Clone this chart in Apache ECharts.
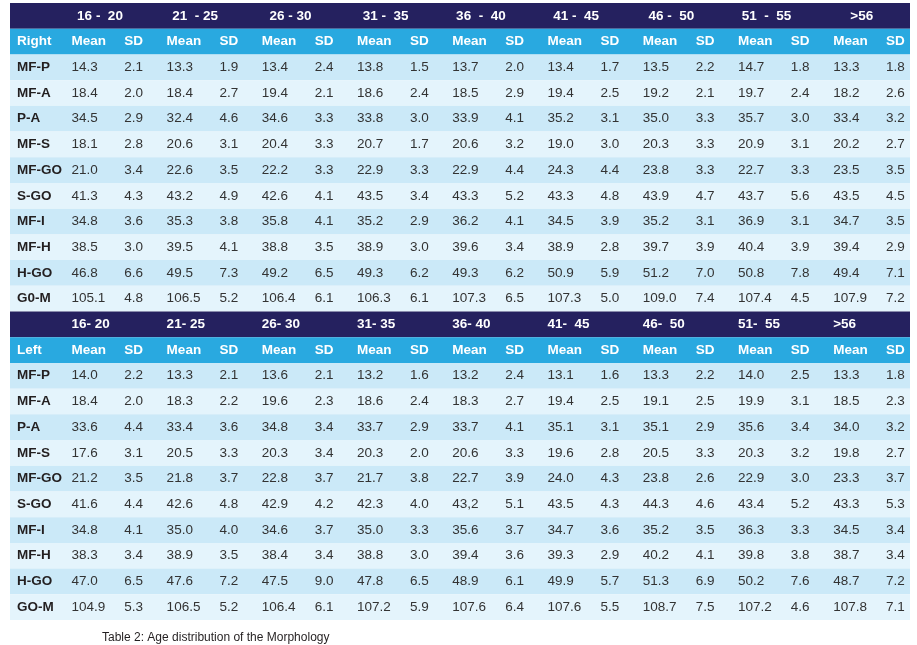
<!DOCTYPE html>
<html>
<head>
<meta charset="utf-8">
<script src="https://cdn.jsdelivr.net/npm/echarts@6/dist/echarts.min.js"></script>
<style>
  html, body { margin: 0; padding: 0; background: #fff; }
  #chart { width: 917px; height: 645px; }
</style>
</head>
<body>
<div id="chart"></div>
<script>
// age bands (header text as printed)
const ageGroupsRight = ['16 -  20', '21  - 25', '26 - 30', '31 -  35', '36  -  40', '41 -  45', '46 -  50', '51  -  55', '>56']
const ageGroupsLeft = ['16- 20', '21- 25', '26- 30', '31- 35', '36- 40', '41-  45', '46-  50', '51-  55', '>56']

const measuresRight = ['MF-P', 'MF-A', 'P-A', 'MF-S', 'MF-GO', 'S-GO', 'MF-I', 'MF-H', 'H-GO', 'G0-M']
const measuresLeft = ['MF-P', 'MF-A', 'P-A', 'MF-S', 'MF-GO', 'S-GO', 'MF-I', 'MF-H', 'H-GO', 'GO-M']

// each row: Mean, SD for every age band
const rightValues = [
  ['14.3','2.1','13.3','1.9','13.4','2.4','13.8','1.5','13.7','2.0','13.4','1.7','13.5','2.2','14.7','1.8','13.3','1.8'],
  ['18.4','2.0','18.4','2.7','19.4','2.1','18.6','2.4','18.5','2.9','19.4','2.5','19.2','2.1','19.7','2.4','18.2','2.6'],
  ['34.5','2.9','32.4','4.6','34.6','3.3','33.8','3.0','33.9','4.1','35.2','3.1','35.0','3.3','35.7','3.0','33.4','3.2'],
  ['18.1','2.8','20.6','3.1','20.4','3.3','20.7','1.7','20.6','3.2','19.0','3.0','20.3','3.3','20.9','3.1','20.2','2.7'],
  ['21.0','3.4','22.6','3.5','22.2','3.3','22.9','3.3','22.9','4.4','24.3','4.4','23.8','3.3','22.7','3.3','23.5','3.5'],
  ['41.3','4.3','43.2','4.9','42.6','4.1','43.5','3.4','43.3','5.2','43.3','4.8','43.9','4.7','43.7','5.6','43.5','4.5'],
  ['34.8','3.6','35.3','3.8','35.8','4.1','35.2','2.9','36.2','4.1','34.5','3.9','35.2','3.1','36.9','3.1','34.7','3.5'],
  ['38.5','3.0','39.5','4.1','38.8','3.5','38.9','3.0','39.6','3.4','38.9','2.8','39.7','3.9','40.4','3.9','39.4','2.9'],
  ['46.8','6.6','49.5','7.3','49.2','6.5','49.3','6.2','49.3','6.2','50.9','5.9','51.2','7.0','50.8','7.8','49.4','7.1'],
  ['105.1','4.8','106.5','5.2','106.4','6.1','106.3','6.1','107.3','6.5','107.3','5.0','109.0','7.4','107.4','4.5','107.9','7.2']
]
const leftValues = [
  ['14.0','2.2','13.3','2.1','13.6','2.1','13.2','1.6','13.2','2.4','13.1','1.6','13.3','2.2','14.0','2.5','13.3','1.8'],
  ['18.4','2.0','18.3','2.2','19.6','2.3','18.6','2.4','18.3','2.7','19.4','2.5','19.1','2.5','19.9','3.1','18.5','2.3'],
  ['33.6','4.4','33.4','3.6','34.8','3.4','33.7','2.9','33.7','4.1','35.1','3.1','35.1','2.9','35.6','3.4','34.0','3.2'],
  ['17.6','3.1','20.5','3.3','20.3','3.4','20.3','2.0','20.6','3.3','19.6','2.8','20.5','3.3','20.3','3.2','19.8','2.7'],
  ['21.2','3.5','21.8','3.7','22.8','3.7','21.7','3.8','22.7','3.9','24.0','4.3','23.8','2.6','22.9','3.0','23.3','3.7'],
  ['41.6','4.4','42.6','4.8','42.9','4.2','42.3','4.0','43,2','5.1','43.5','4.3','44.3','4.6','43.4','5.2','43.3','5.3'],
  ['34.8','4.1','35.0','4.0','34.6','3.7','35.0','3.3','35.6','3.7','34.7','3.6','35.2','3.5','36.3','3.3','34.5','3.4'],
  ['38.3','3.4','38.9','3.5','38.4','3.4','38.8','3.0','39.4','3.6','39.3','2.9','40.2','4.1','39.8','3.8','38.7','3.4'],
  ['47.0','6.5','47.6','7.2','47.5','9.0','47.8','6.5','48.9','6.1','49.9','5.7','51.3','6.9','50.2','7.6','48.7','7.2'],
  ['104.9','5.3','106.5','5.2','106.4','6.1','107.2','5.9','107.6','6.4','107.6','5.5','108.7','7.5','107.2','4.6','107.8','7.1']
]

const sectionNames = ['Right', 'Left']
const caption = 'Table 2: Age distribution of the Morphology'

const FONT = '"Liberation Sans", Arial, Helvetica, sans-serif'
const NAVY = '#25215f', CYAN = '#29a9e0', ROW_A = '#cbe9f8', ROW_B = '#e4f4fc'

// build row list (24 rows) + cell list
const sections = [
  { name: sectionNames[0], ages: ageGroupsRight, measures: measuresRight, values: rightValues },
  { name: sectionNames[1], ages: ageGroupsLeft, measures: measuresLeft, values: leftValues }
]
const rowLabels = [], rowKinds = [], cells = []
sections.forEach((s, si) => {
  const base = rowLabels.length
  rowLabels.push('', s.name)
  rowKinds.push('age', 'head')
  s.measures.forEach((m, i) => { rowLabels.push(m); rowKinds.push(i % 2 ? 'b' : 'a') })
  s.ages.forEach((a, k) => {
    cells.push({ band: k, row: base, text: a, type: si === 0 ? 'ageC' : 'ageL' })
    cells.push({ band: k, row: base + 1, text: 'Mean', type: 'hMean' })
    cells.push({ band: k, row: base + 1, text: 'SD', type: 'hSD' })
  })
  s.values.forEach((vals, i) => {
    for (let k = 0; k < 9; k++) {
      cells.push({ band: k, row: base + 2 + i, text: vals[2 * k], type: 'mean' })
      cells.push({ band: k, row: base + 2 + i, text: vals[2 * k + 1], type: 'sd' })
    }
  })
})
const rowKeys = rowLabels.map((_, i) => 'r' + i)
const rowColor = { age: NAVY, head: CYAN, a: ROW_A, b: ROW_B }

const chart = echarts.init(document.getElementById('chart'))
chart.setOption({
  animation: false,
  title: {
    text: caption, left: 97, top: 627,
    textStyle: { fontFamily: FONT, fontSize: 12, fontWeight: 'normal', color: '#231f20' }
  },
  grid: [
    { left: 10, width: 900, top: 3, height: 617 },   // table background + row labels
    { left: 59, width: 857, top: 3, height: 617 }    // cell text
  ],
  xAxis: [
    { gridIndex: 0, type: 'value', min: 0, max: 1, show: false },
    { gridIndex: 1, type: 'category', data: ageGroupsRight, show: false }
  ],
  yAxis: [
    {
      gridIndex: 0, type: 'category', data: rowKeys, inverse: true,
      axisLine: { show: false }, axisTick: { show: false }, splitLine: { show: false },
      axisLabel: {
        inside: true, margin: 7, interval: 0,
        formatter: (v, i) => {
          const t = rowLabels[i]
          if (!t) return ''
          return rowKinds[i] === 'head' ? '{h|' + t + '}' : '{d|' + t + '}'
        },
        rich: {
          h: { color: '#fff', fontWeight: 'bold', fontSize: 13.5, fontFamily: FONT },
          d: { color: '#231f20', fontWeight: 'bold', fontSize: 13.5, fontFamily: FONT }
        }
      },
      z: 10
    },
    { gridIndex: 1, type: 'category', data: rowKeys, inverse: true, show: false }
  ],
  series: [
    {
      type: 'bar', xAxisIndex: 0, yAxisIndex: 0,
      barCategoryGap: '0%', silent: true, z: 1,
      data: rowKinds.map(k => ({ value: 1, itemStyle: { color: rowColor[k] } }))
    },
    {
      type: 'custom', xAxisIndex: 1, yAxisIndex: 1, z: 5, silent: true,
      data: cells.map(c => [c.band, c.row]),
      renderItem: (params, api) => {
        const c = cells[params.dataIndex]
        const p = api.coord([c.band, c.row])
        const bw = api.size([1, 0])[0]
        const x0 = p[0] - bw / 2
        let x = x0 + 12.4, align = 'left'
        if (c.type === 'sd' || c.type === 'hSD') x = x0 + 65.3
        if (c.type === 'ageC') { x = x0 + 41; align = 'center' }
        const header = c.type !== 'mean' && c.type !== 'sd'
        return {
          type: 'text',
          style: {
            x: x, y: p[1], text: c.text, align: align, verticalAlign: 'middle',
            fill: header ? '#fff' : '#333',
            font: (header ? 'bold ' : '') + '13.5px ' + FONT
          }
        }
      }
    }
  ]
})
</script>
</body>
</html>
